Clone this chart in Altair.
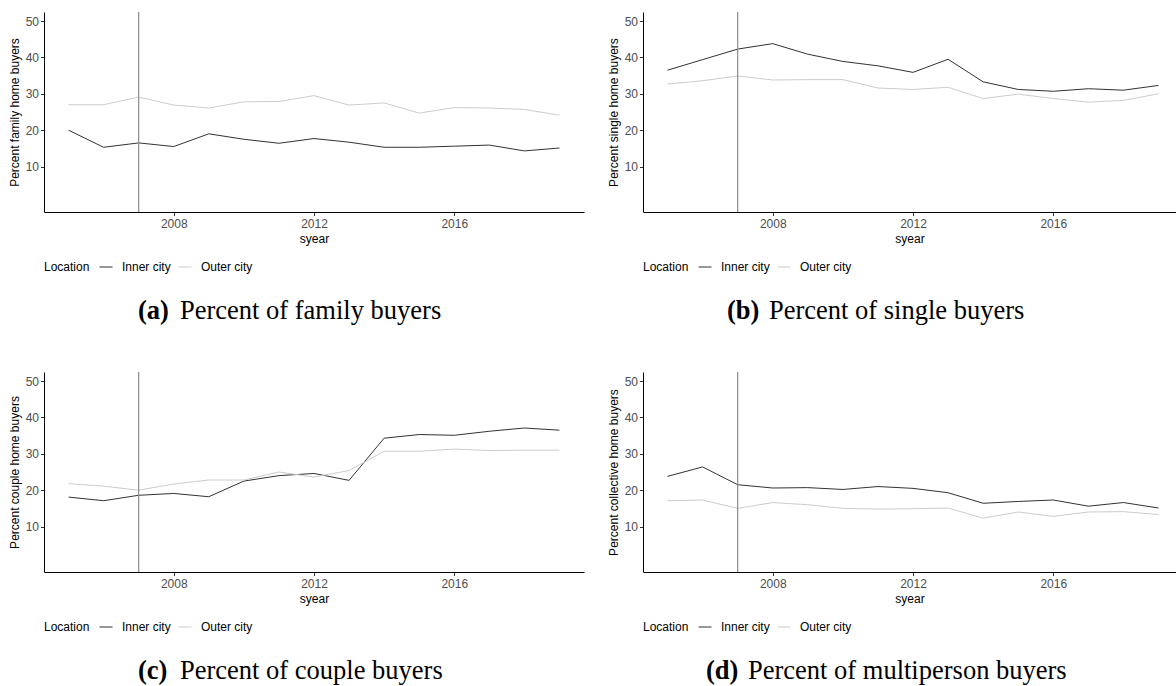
import altair as alt
import pandas as pd

years = list(range(2005, 2020))
x_ticks = [2008, 2012, 2016]
y_ticks = [10, 20, 30, 40, 50]
reform_year = [2007]
locations = ["Inner city", "Outer city"]
location_colors = ["#333333", "#cccccc"]

family_inner = [20.0, 15.3, 16.5, 15.5, 19.0, 17.5, 16.4, 17.7, 16.7, 15.3, 15.3, 15.6, 15.9, 14.3, 15.1]
family_outer = [27.0, 27.0, 29.1, 26.9, 26.1, 27.8, 27.9, 29.5, 26.9, 27.5, 24.7, 26.2, 26.1, 25.7, 24.1]

single_inner = [36.5, 39.4, 42.3, 43.8, 40.9, 38.9, 37.7, 35.9, 39.5, 33.3, 31.2, 30.7, 31.4, 31.0, 32.3]
single_outer = [32.7, 33.6, 34.9, 33.8, 33.9, 33.9, 31.6, 31.2, 31.8, 28.7, 29.9, 28.7, 27.7, 28.2, 30.0]

couple_inner = [18.1, 17.1, 18.6, 19.1, 18.2, 22.5, 24.0, 24.6, 22.7, 34.3, 35.3, 35.1, 36.2, 37.1, 36.5]
couple_outer = [21.8, 21.1, 20.0, 21.7, 22.8, 22.8, 25.0, 23.6, 25.4, 30.7, 30.7, 31.3, 30.9, 31.0, 31.0]

collective_inner = [23.8, 26.4, 21.5, 20.6, 20.7, 20.2, 21.0, 20.5, 19.3, 16.4, 16.9, 17.3, 15.6, 16.6, 15.1]
collective_outer = [17.1, 17.3, 15.0, 16.6, 16.0, 15.0, 14.8, 14.9, 15.1, 12.3, 14.0, 12.8, 14.0, 14.1, 13.3]

SANS = "Liberation Sans"
SERIF = "Liberation Serif"


def panel(inner, outer, ytitle, tag, caption, width, xmax, tag_x, cap_x):
    df = pd.DataFrame({
        "syear": years + years,
        "value": inner + outer,
        "Location": [locations[0]] * len(years) + [locations[1]] * len(years),
    })
    x_enc = alt.X(
        "syear:Q",
        title="syear",
        scale=alt.Scale(domain=[2004.3, xmax], nice=False, zero=False),
        axis=alt.Axis(values=x_ticks, format="d"),
    )
    lines = alt.Chart(df).mark_line(strokeWidth=1).encode(
        x=x_enc,
        y=alt.Y(
            "value:Q",
            title=ytitle,
            scale=alt.Scale(domain=[-2.5, 52.5], nice=False, zero=False),
            axis=alt.Axis(values=y_ticks),
        ),
        color=alt.Color(
            "Location:N",
            scale=alt.Scale(domain=locations, range=location_colors),
            legend=alt.Legend(
                orient="none",
                legendX=0,
                legendY=248,
                direction="horizontal",
                titleOrient="left",
                titlePadding=9,
                symbolType="stroke",
                symbolSize=169,
                symbolStrokeWidth=1,
                labelOffset=9,
                columnPadding=5,
            ),
        ),
    )
    rule = alt.Chart(pd.DataFrame({"syear": reform_year})).mark_rule(
        color="#8c8c8c", strokeWidth=1.2
    ).encode(x=x_enc)
    tag_text = alt.Chart(pd.DataFrame({"t": [tag]})).mark_text(
        font=SERIF, fontSize=26.5, fontWeight="bold", align="left", baseline="middle", color="black"
    ).encode(text="t:N", x=alt.value(tag_x), y=alt.value(299))
    cap_text = alt.Chart(pd.DataFrame({"t": [caption]})).mark_text(
        font=SERIF, fontSize=26.5, align="left", baseline="middle", color="black"
    ).encode(text="t:N", x=alt.value(cap_x), y=alt.value(299))
    return alt.layer(lines, rule, tag_text, cap_text).properties(width=width, height=200)


pa = panel(family_inner, family_outer, "Percent family home buyers",
           "(a)", "Percent of family buyers", 540, 2019.7, 94, 136)
pb = panel(single_inner, single_outer, "Percent single home buyers",
           "(b)", "Percent of single buyers", 533, 2019.5, 84, 126)
pc = panel(couple_inner, couple_outer, "Percent couple home buyers",
           "(c)", "Percent of couple buyers", 540, 2019.7, 94, 136)
pd_ = panel(collective_inner, collective_outer, "Percent collective home buyers",
            "(d)", "Percent of multiperson buyers", 533, 2019.5, 63, 105)

top = alt.hconcat(pa, pb, spacing=59, bounds="flush").resolve_scale(color="independent").resolve_legend(color="independent")
bottom = alt.hconcat(pc, pd_, spacing=59, bounds="flush").resolve_scale(color="independent").resolve_legend(color="independent")

# rows are stacked with flush bounds, so the spacing is measured from the
# top of one row's plot area to the top of the next
chart = (
    alt.vconcat(top, bottom, spacing=360, bounds="flush")
    .resolve_scale(color="independent")
    .resolve_legend(color="independent")
    .properties(padding={"left": 8, "top": 11, "right": 0, "bottom": 0}, background="white")
    .configure_view(stroke=None)
    .configure_axis(
        grid=False,
        domainColor="black",
        domainWidth=1,
        tickColor="#333333",
        tickSize=3.5,
        labelFont=SANS,
        labelFontSize=12,
        labelColor="#4d4d4d",
        titleFont=SANS,
        titleFontSize=12,
        titleFontWeight="normal",
        titleColor="black",
    )
    .configure_axisX(labelPadding=2.5, titlePadding=4)
    .configure_axisY(labelPadding=2, titlePadding=4)
    .configure_legend(
        labelFont=SANS,
        labelFontSize=12,
        labelColor="black",
        titleFont=SANS,
        titleFontSize=12,
        titleFontWeight="normal",
        titleColor="black",
    )
)

chart.save("out.html", embed_options={"renderer": "svg", "actions": False})
